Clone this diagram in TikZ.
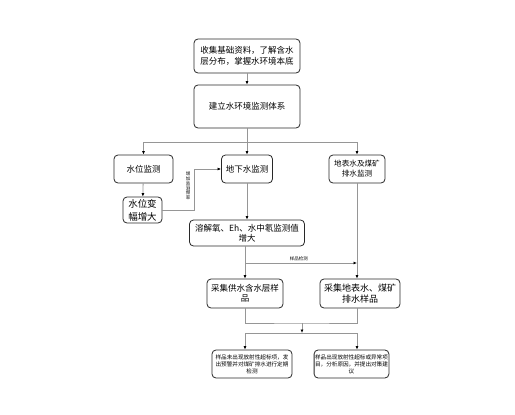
\documentclass[tikz,border=0pt]{standalone}
\usepackage{fontspec}
\setmainfont{Noto Sans CJK SC}
\usetikzlibrary{arrows.meta}
\definecolor{lineGray}{RGB}{150, 150, 150}
\definecolor{boxEdge}{RGB}{40, 40, 40}

\begin{document}
\begin{tikzpicture}[x=1pt, y=-1pt,
    box/.style={draw=boxEdge, line width=0.8pt, rounded corners=4pt, align=center,
                inner sep=1pt, font=\fontsize{8.5}{10.5}\selectfont},
    small/.style={box, font=\fontsize{5.6}{7}\selectfont},
    link/.style={draw=lineGray, line width=0.8pt},
    arr/.style={link, -{Latex[length=3.5pt, width=3pt, color=black]}}]
      \useasboundingbox (0,0) rectangle (515,415);

      % first two steps
      \node[box, minimum width=106pt, minimum height=34pt] (info) at (247,56)
        {收集基础资料，了解含水\\层分布，掌握水环境本底};
      \node[box, minimum width=106pt, minimum height=43pt] (system) at (247,106.5)
        {建立水环境监测体系};

      % three monitoring branches
      \node[box, minimum width=59pt, minimum height=28pt] (level) at (143.5,169) {水位监测};
      \node[box, minimum width=51pt, minimum height=28pt] (ground) at (247,169) {地下水监测};
      \node[box, font=\fontsize{7.6}{10}\selectfont, minimum width=56pt, minimum height=28pt]
        (surface) at (357,169) {地表水及煤矿\\排水监测};

      \node[box, font=\fontsize{9.5}{13}\selectfont, minimum width=39pt, minimum height=26pt]
        (amplitude) at (142.5,210) {水位变\\幅增大};
      \node[box, minimum width=115pt, minimum height=26pt] (oxygen) at (247,233)
        {溶解氧、Eh、水中氡监测值\\增大};

      % sampling
      \node[box, minimum width=76pt, minimum height=29pt] (supply) at (245,293.5)
        {采集供水含水层样\\品};
      \node[box, font=\fontsize{9}{11}\selectfont, minimum width=80pt, minimum height=29pt]
        (drainage) at (360,293.5) {采集地表水、煤矿\\排水样品};

      % results
      \node[small, minimum width=80pt, minimum height=28pt] (normal) at (252,364)
        {样品未出现放射性超标项，发\\出预警并对煤矿排水进行定期\\检测};
      \node[small, minimum width=71pt, minimum height=28pt] (abnormal) at (351.5,364)
        {样品出现放射性超标或异常项\\目，分析原因，并提出对策建\\议};

      % helper points on the connectors
      \coordinate (bus) at (247,142);
      \coordinate (turn) at (194,210);
      \coordinate (split) at (247,263);
      \coordinate (join) at (302,323);
      \coordinate (fork) at (302,333);

      \draw[arr] (info) -- (system);
      \draw[link] (system) -- (bus);
      \draw[arr] (bus) -| (level);
      \draw[arr] (bus) -- (ground);
      \draw[arr] (bus) -| (surface);
      \draw[arr] (level) -- (amplitude);
      \draw[arr] (amplitude.east) -- (turn) |- (ground.west);
      \node[align=center, inner sep=0pt, font=\fontsize{4.5}{4.8}\selectfont]
        (freq) at (188,186) {增\\加\\监\\测\\频\\率};
      \draw[arr] (ground) -- (oxygen);
      \draw[arr] (oxygen.south -| supply.north) -- (supply.north);
      \draw[arr] (surface.south) -- (surface.south |- drainage.north);
      \draw[arr] (split -| supply.north) -- (split -| surface.south)
        node[pos=0.48, above, inner sep=2pt, font=\fontsize{4.5}{5}\selectfont] (check) {样品检测};

      \draw[link] (supply.south) |- (join) -| (surface.south |- drainage.south);
      \draw[arr] (join) -- (fork);
      \draw[arr] (fork) -| (normal.north -| supply.south);
      \draw[arr] (fork) -| (abnormal.north -| surface.south);
\end{tikzpicture}
\end{document}
